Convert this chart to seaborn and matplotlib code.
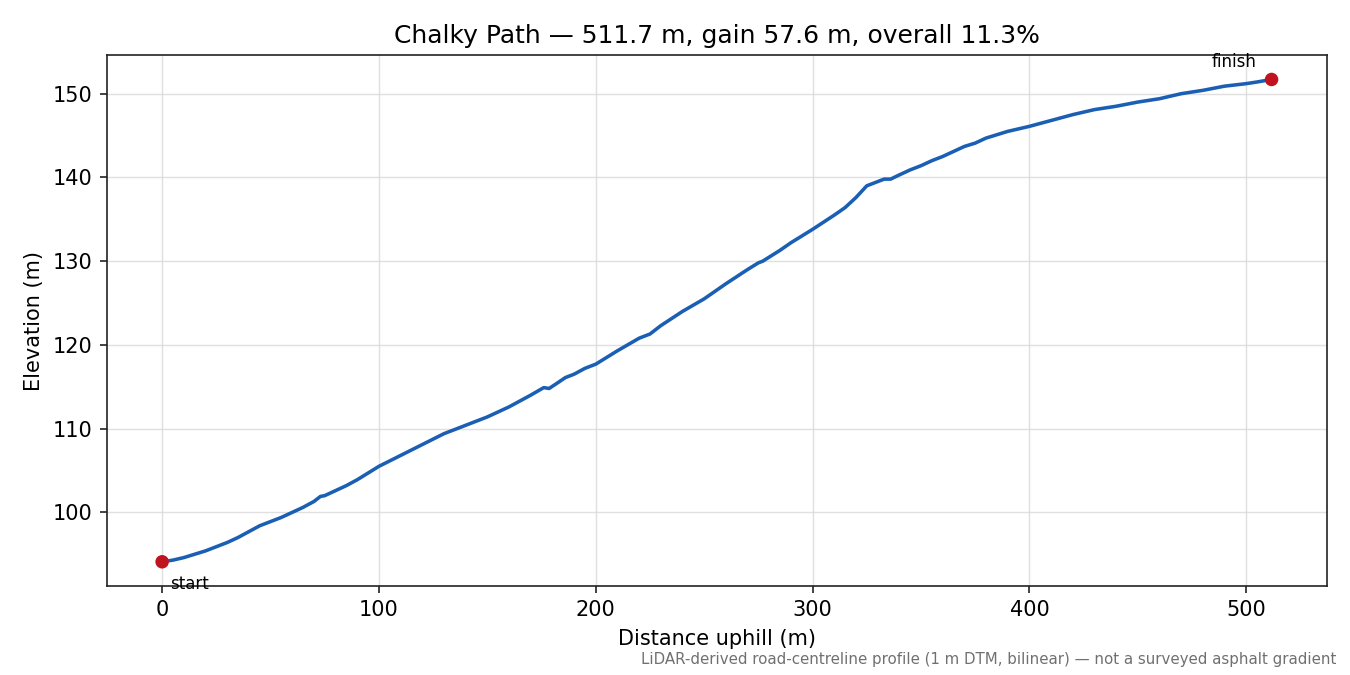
import pandas as pd
import seaborn as sns
import matplotlib
matplotlib.use("Agg")
import matplotlib.pyplot as plt

# perfil (distancia en m, elevación en m)
distance = [0, 5, 10, 15, 20, 25, 30, 35, 40, 45, 50, 55, 60, 65, 70, 73, 75, 80, 85, 90,
            95, 100, 110, 120, 130, 135, 140, 150, 160, 170, 176, 178.5, 182, 186, 190, 195,
            200, 210, 220, 225, 230, 240, 250, 260, 270, 275, 277, 285, 290, 300, 310,
            315, 320, 325, 330, 333, 336, 340, 345, 350, 355, 360, 365, 370, 375, 380,
            385, 390, 395, 400, 410, 420, 430, 440, 450, 460, 470, 480, 490, 500, 505, 511.7]
elevation = [94.1, 94.3, 94.6, 95.0, 95.4, 95.9, 96.4, 97.0, 97.7, 98.4, 98.9, 99.4, 100.0,
             100.6, 101.3, 101.9, 102.0, 102.6, 103.2, 103.9, 104.7, 105.5, 106.8, 108.1,
             109.4, 109.9, 110.4, 111.4, 112.6, 114.0, 114.9, 114.8, 115.4, 116.1, 116.5,
             117.2, 117.7, 119.3, 120.8, 121.3, 122.3, 124.0, 125.5, 127.3, 129.0, 129.8,
             130.0, 131.3, 132.2, 133.8, 135.5, 136.4, 137.6, 139.0, 139.5, 139.8, 139.8,
             140.3, 140.9, 141.4, 142.0, 142.5, 143.1, 143.7, 144.1, 144.7, 145.1, 145.5,
             145.8, 146.1, 146.8, 147.5, 148.1, 148.5, 149.0, 149.4, 150.0, 150.4, 150.9,
             151.2, 151.4, 151.7]

title = "Chalky Path \u2014 511.7 m, gain 57.6 m, overall 11.3%"
note = "LiDAR-derived road-centreline profile (1 m DTM, bilinear) \u2014 not a surveyed asphalt gradient"

df = pd.DataFrame({"distance": distance, "elevation": elevation})

sns.set_style("ticks")
plt.rcParams["font.family"] = ["DejaVu Sans"]
plt.rcParams["text.color"] = "black"
plt.rcParams["axes.labelcolor"] = "black"

fig, ax = plt.subplots(figsize=(9, 4.5), dpi=150)
fig.subplots_adjust(left=0.079, right=0.983, top=0.918, bottom=0.132)

sns.lineplot(data=df, x="distance", y="elevation", color="#1a5fb4", linewidth=1.7, ax=ax)

# puntos de inicio y final
ends = df.iloc[[0, -1]]
sns.scatterplot(data=ends, x="distance", y="elevation", color="#c1121f", s=42,
                edgecolor="none", zorder=5, ax=ax)
ax.annotate("start", (distance[0], elevation[0]), xytext=(4, -13),
            textcoords="offset points", fontsize=8, color="black")
ax.annotate("finish", (distance[-1], elevation[-1]), xytext=(-7, 6),
            textcoords="offset points", fontsize=8, color="black", ha="right")

ax.grid(True, color="#d9d9d9", linewidth=0.7, alpha=0.8)
for s in ax.spines.values():
    s.set_color("#222222")
ax.tick_params(colors="#222222", labelcolor="black")
ax.set_title(title, fontsize=12, color="black")
ax.set_xlabel("Distance uphill (m)", fontsize=10)
ax.set_ylabel("Elevation (m)", fontsize=10)

fig.text(0.99, 0.012, note, ha="right", va="bottom", fontsize=7.2, color="#707070")

fig.savefig("out.png", dpi=150)
